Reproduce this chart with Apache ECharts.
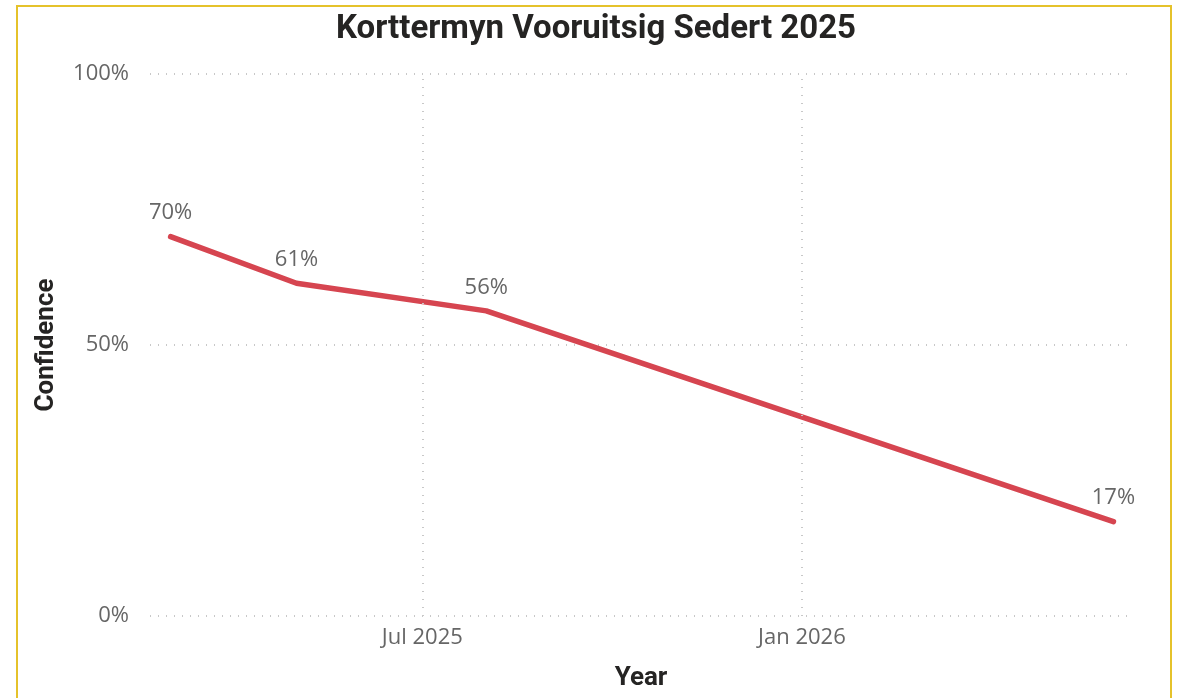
<!DOCTYPE html>
<html lang="af">
<head>
    <meta charset="UTF-8">
    <title>Korttermyn Vooruitsig Sedert 2025</title>
    <script src="https://cdn.jsdelivr.net/npm/echarts@6/dist/echarts.min.js"></script>
    <style>
        html, body { margin: 0; padding: 0; background: #fff; }
        #frame {
            position: absolute; left: 16px; top: 5px; width: 1156px; height: 720px;
            border: 2px solid #E5C22B; box-sizing: border-box;
        }
        #chart { position: absolute; left: 0; top: 0; width: 1177px; height: 698px; }
    </style>
</head>
<body>
<div id="frame"></div>
<div id="chart"></div>
<script type="text/javascript">
    // data
    const dates = ['2025-03-01', '2025-05-01', '2025-08-01', '2026-06-01'];
    const confidence = [70.0, 61.4, 56.3, 17.4];
    const xTicks = ['2025-07-01', '2026-01-01'];
    const monthNames = ['Jan', 'Feb', 'Mar', 'Apr', 'May', 'Jun', 'Jul', 'Aug', 'Sep', 'Oct', 'Nov', 'Dec'];

    function ts(s) {
        let p = s.split('-');
        return Date.UTC(+p[0], +p[1] - 1, +p[2]);
    }

    let chart = echarts.init(document.getElementById('chart'));
    let seriesData = dates.map((d, i) => [ts(d), confidence[i]]);
    let gridStyle = {color: '#C8C8C8', type: [1, 7], width: 2};
    let tickFont = {fontFamily: 'Open Sans', fontSize: 22, color: '#666666'};
    let nameFont = {fontFamily: 'Roboto', fontWeight: 'bold', fontSize: 26, color: '#252423'};

    let option = {
        animation: false,
        title: {
            text: 'Korttermyn Vooruitsig Sedert 2025',
            left: 591,
            textAlign: 'center',
            top: 8,
            textStyle: {fontFamily: 'Roboto', fontWeight: 'bold', fontSize: 33, color: '#252423'}
        },
        grid: {left: 150, right: 45, top: 74, bottom: 82},
        xAxis: {
            // timestamps on a value axis, so the two date ticks can be placed exactly
            type: 'value',
            min: ts('2025-02-19'),
            max: ts('2026-06-10'),
            name: 'Year',
            nameLocation: 'middle',
            nameGap: 49,
            nameTextStyle: nameFont,
            axisLine: {show: false},
            axisTick: {show: false},
            axisLabel: Object.assign({
                customValues: xTicks.map(ts),
                margin: 11,
                formatter: function (v) {
                    let d = new Date(v);
                    return monthNames[d.getUTCMonth()] + ' ' + d.getUTCFullYear();
                }
            }, tickFont),
            splitLine: {show: false}
        },
        yAxis: {
            type: 'value',
            min: 0, max: 100, interval: 50,
            name: 'Confidence',
            nameLocation: 'middle',
            nameGap: 91,
            nameTextStyle: nameFont,
            axisLine: {show: false},
            axisTick: {show: false},
            axisLabel: Object.assign({
                margin: 21,
                formatter: v => v + '%'
            }, tickFont),
            splitLine: {show: true, lineStyle: gridStyle}
        },
        series: [{
            type: 'line',
            data: seriesData,
            symbol: 'circle',
            symbolSize: 1,
            showSymbol: true,
            itemStyle: {color: '#D64550'},
            lineStyle: {color: '#D64550', width: 5.5, cap: 'round', join: 'round'},
            label: {
                show: true,
                position: 'top',
                distance: 12,
                fontFamily: 'Open Sans', fontSize: 22, color: '#666666',
                formatter: p => Math.round(p.value[1]) + '%'
            },
            markLine: {
                silent: true,
                symbol: 'none',
                label: {show: false},
                lineStyle: gridStyle,
                data: xTicks.map(t => [{coord: [ts(t), 0]}, {coord: [ts(t), 100]}])
            },
            z: 3
        }]
    };
    chart.setOption(option);
</script>
</body>
</html>
